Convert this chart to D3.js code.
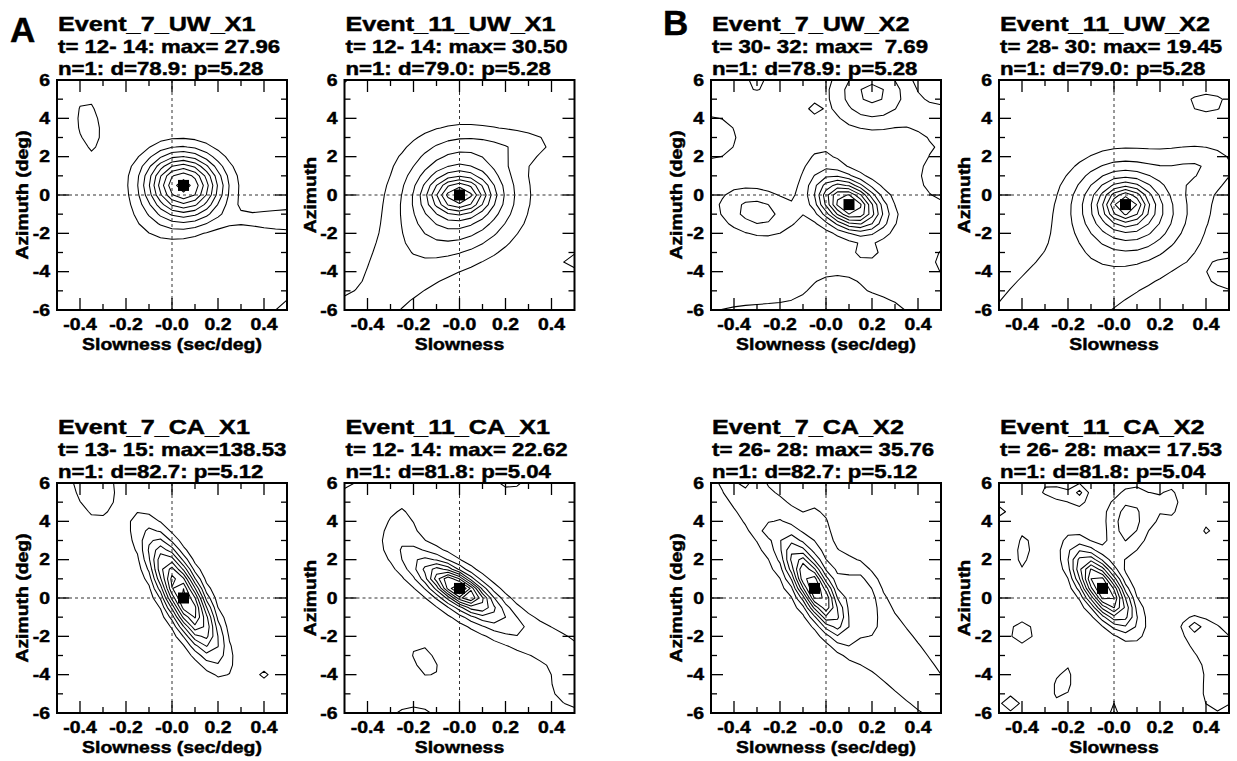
<!DOCTYPE html>
<html><head><meta charset="utf-8">
<script src="https://cdn.jsdelivr.net/npm/d3@7"></script>
<style>
body{margin:0;background:#fff}
text{font-family:"Liberation Sans",Arial,Helvetica,sans-serif;font-weight:bold;fill:#000;stroke:#000;stroke-width:0.45px;white-space:pre}
</style></head>
<body>
<svg id="chart" width="1237" height="761"></svg>
<script>
// ---------------- data ----------------
const titles = ["Event_7_UW_X1","Event_11_UW_X1","Event_7_UW_X2","Event_11_UW_X2",
                "Event_7_CA_X1","Event_11_CA_X1","Event_7_CA_X2","Event_11_CA_X2"];
const timeLines = ["t= 12- 14: max= 27.96","t= 12- 14: max= 30.50","t= 30- 32: max=  7.69","t= 28- 30: max= 19.45",
                   "t= 13- 15: max=138.53","t= 12- 14: max= 22.62","t= 26- 28: max= 35.76","t= 26- 28: max= 17.53"];
const infoLines = ["n=1: d=78.9: p=5.28","n=1: d=79.0: p=5.28","n=1: d=78.9: p=5.28","n=1: d=79.0: p=5.28",
                   "n=1: d=82.7: p=5.12","n=1: d=81.8: p=5.04","n=1: d=82.7: p=5.12","n=1: d=81.8: p=5.04"];
const yLabels = ["Azimuth (deg)","Azimuth","Azimuth (deg)","Azimuth","Azimuth (deg)","Azimuth","Azimuth (deg)","Azimuth"];
const xLabels = ["Slowness (sec/deg)","Slowness","Slowness (sec/deg)","Slowness","Slowness (sec/deg)","Slowness","Slowness (sec/deg)","Slowness"];
const groupLabels = ["A","B"];

// best-beam location (slowness, azimuth) of each panel
const peakSlowness = [0.05, 0.0, 0.1, 0.05, 0.05, 0.0, -0.05, -0.05];
const peakAzimuth  = [0.5, 0.0, -0.5, -0.5, 0.0, 0.5, 0.5, 0.5];

// axis ticks
const xTickValues = [-0.4,-0.2,0,0.2,0.4];
const xTickLabels = ["-0.4","-0.2","-0.0","0.2","0.4"];
const xMinorValues = [-0.4,-0.3,-0.2,-0.1,0,0.1,0.2,0.3,0.4];
const yTickValues = [6,4,2,0,-2,-4,-6];
const yTickLabels = ["6","4","2","0","-2","-4","-6"];
const yMinorValues = [-5,-4,-3,-2,-1,0,1,2,3,4,5];

// contour levels (fraction of the panel maximum)
const levels = [0.1,0.2,0.3,0.4,0.5,0.6,0.7,0.8,0.9];

// beam-power features: [slowness, azimuth, width_s, width_az, tilt, relative power]
const beams1 = [[0.05,0.5,0.112,1.15,-0.05,0.95],[-0.05,-1.6,0.12,0.9,0,0.08],[-0.36,3.6,0.06,1.6,-0.3,0.14],
                [0.56,-1.3,0.21,0.45,0,0.2],[0.56,-6.4,0.1,0.9,0,0.2]];
const beams2 = [[0,0,0.08,0.6,0,0.5],[0,0,0.17,1.9,0,0.5],[-0.25,-3.8,0.2,2.5,0.5,0.14],[0.1,2.6,0.2,0.8,0,0.05],
                [0.3,2.7,0.12,0.6,0,0.08],[-0.4,1.9,0.05,0.3,0,0.06],[0.52,-3.45,0.08,0.5,0,0.14],
                [-0.55,6.3,0.08,0.7,0,0.15],[-0.55,-6.4,0.15,0.8,0,0.1]];
const beams3 = [[0.1,-0.5,0.095,0.9,-0.35,0.95],[0.2,5.3,0.12,1.2,0,0.33],[-0.05,4.5,0.02,0.2,0,0.15],
                [-0.5,3.0,0.12,1.2,0,0.15],[-0.3,5.8,0.08,0.5,0,0.12],[-0.3,-0.9,0.12,0.9,-0.2,0.25],
                [0.18,-3.0,0.04,0.3,0,0.13],[-0.3,-6.4,0.25,0.8,0,0.14],[0.25,-6.2,0.1,0.6,0,0.14],
                [0.55,1.0,0.15,1.5,0,0.15],[0.55,-3.5,0.1,1.0,0,0.13],[-0.02,1.8,0.08,1.0,0,0.1],
                [0.05,-4.8,0.15,1.0,0,0.12],[0.5,4.0,0.1,0.8,0,0.12]];
const beams4 = [[0.05,-0.5,0.06,0.6,0,0.45],[0.05,-0.6,0.15,1.55,-0.1,0.5],[-0.15,-4.5,0.5,5.0,0.8,0.15],
                [0.36,1.5,0.1,0.7,0,0.12],[0.4,4.85,0.075,0.45,0,0.13],[0.53,-4.2,0.1,0.8,0,0.14]];
const beams5 = [[0.05,0.1,0.1,2.0,-0.8,0.95],[-0.35,6.4,0.1,2.4,-0.3,0.15],[0.4,-4.0,0.02,0.2,0,0.15]];
const beams6 = [[0.0,0.5,0.07,0.6,-0.7,0.5],[0.0,0.4,0.15,1.3,-0.8,0.5],[-0.05,0.8,0.22,2.2,-0.75,0.08],
                [-0.25,4.0,0.06,1.2,0,0.1],[0.38,-2.2,0.15,1.0,-0.5,0.12],[-0.15,-3.3,0.06,0.9,-0.5,0.15],
                [-0.2,-6.4,0.1,0.8,0,0.15],[-0.52,6.2,0.08,0.6,0,0.14],[0.22,6.3,0.07,0.7,0,0.14],
                [0.55,-4.7,0.15,1.2,0,0.15]];
const beams7 = [[-0.05,0.5,0.08,1.5,-0.8,0.78],[0.07,0,0.46,6.0,-0.95,0.2],[0.16,0.4,0.05,1.0,-0.3,0.14],
                [-0.03,4.0,0.04,1.0,0,0.08],[-0.25,3.5,0.02,0.2,0,0.1],[-0.36,6.2,0.04,0.5,0,0.12]];
const beams8 = [[-0.05,0.5,0.085,1.3,-0.7,0.95],[0.06,3.9,0.06,1.3,0.2,0.25],[-0.39,2.5,0.04,1.1,0.3,0.14],
                [-0.4,-1.8,0.06,0.7,0,0.14],[-0.22,-4.4,0.04,1.0,0.3,0.14],[0.42,3.4,0.03,0.5,-0.4,0.13],
                [0.4,-2.0,0.12,1.2,-0.5,0.14],[0.35,-1.5,0.02,0.2,0,0.15],[-0.25,5.5,0.15,1.0,-0.5,0.11],
                [0.25,5.0,0.08,1.5,0,0.11],[0.45,-5.0,0.1,1.5,0,0.12],[-0.45,-5.5,0.1,1.0,0,0.11],
                [-0.15,5.5,0.02,0.3,0,0.15],[-0.5,4.5,0.05,0.5,0,0.12],[0.0,-5.8,0.06,0.5,0,0.12]];
const beams = [beams1,beams2,beams3,beams4,beams5,beams6,beams7,beams8];

// ---------------- drawing ----------------
const svg = d3.select("#chart");
const K = 1.19;   // horizontal stretch of the original typeface
function stretch(sel, k){
  sel.each(function(){
    const w = this.getComputedTextLength();
    d3.select(this).attr("textLength", w*k).attr("lengthAdjust","spacingAndGlyphs");
  });
  return sel;
}

const PW = 230, PH = 230;
const colX = [57, 344.5, 711, 999];
const rowY = [80, 483];

// sampling grid of the beam-power map
const NX = 23, NY = 27, X0 = -0.55, DX = 0.05, Y0 = -6.5, DY = 0.5;
const gxs = d3.range(NX).map(i => X0 + i*DX);
const gys = d3.range(NY).map(j => Y0 + j*DY);

function power(list, s, a){
  let v = 0;
  for (const [cx,cy,sx,sy,r,amp] of list){
    const u = (s-cx)/sx, w = (a-cy)/sy;
    const q = (u*u - 2*r*u*w + w*w)/(1 - r*r);
    v += amp*Math.exp(-0.5*q);
  }
  return v;
}

svg.append("defs");

titles.forEach((t, i) => {
  const col = i % 4, row = Math.floor(i/4);
  const L = colX[col], T = rowY[row];
  const x = d3.scaleLinear().domain([-0.5,0.5]).range([L, L+PW]);
  const y = d3.scaleLinear().domain([-6,6]).range([T+PH, T]);
  const g = svg.append("g");

  const cid = "clip"+i;
  svg.select("defs").append("clipPath").attr("id",cid)
    .append("rect").attr("x",L).attr("y",T).attr("width",PW).attr("height",PH);

  // contours
  const values = new Array(NX*NY);
  for (let j=0;j<NY;j++) for (let k=0;k<NX;k++) values[j*NX+k] = power(beams[i], gxs[k], gys[j]);
  const cs = d3.contours().size([NX,NY]).thresholds(levels)(values);
  const proj = d3.geoTransform({point(px,py){
    this.stream.point(x(X0 + (px-0.5)*DX), y(Y0 + (py-0.5)*DY));
  }});
  const path = d3.geoPath(proj);
  g.append("g").attr("clip-path",`url(#${cid})`)
    .selectAll("path").data(cs).join("path")
    .attr("d", path).attr("fill","none").attr("stroke","#000").attr("stroke-width",1.05)
    .attr("stroke-linejoin","round");

  // zero lines
  g.append("line").attr("x1",x(0)).attr("x2",x(0)).attr("y1",T).attr("y2",T+PH)
    .attr("stroke","#333").attr("stroke-width",1).attr("stroke-dasharray","3,3");
  g.append("line").attr("x1",L).attr("x2",L+PW).attr("y1",y(0)).attr("y2",y(0))
    .attr("stroke","#333").attr("stroke-width",1).attr("stroke-dasharray","3,3");

  // ticks (inward, all four sides)
  const tk = g.append("g").attr("stroke","#000").attr("stroke-width",1.3);
  xMinorValues.forEach(v => {
    const len = xTickValues.some(m => Math.abs(m-v)<1e-9) ? 12 : 6;
    tk.append("line").attr("x1",x(v)).attr("x2",x(v)).attr("y1",T+PH).attr("y2",T+PH-len);
    tk.append("line").attr("x1",x(v)).attr("x2",x(v)).attr("y1",T).attr("y2",T+len);
  });
  yMinorValues.forEach(v => {
    const len = (v % 2 === 0) ? 12 : 6;
    tk.append("line").attr("x1",L).attr("x2",L+len).attr("y1",y(v)).attr("y2",y(v));
    tk.append("line").attr("x1",L+PW).attr("x2",L+PW-len).attr("y1",y(v)).attr("y2",y(v));
  });

  // frame
  g.append("rect").attr("x",L).attr("y",T).attr("width",PW).attr("height",PH)
    .attr("fill","none").attr("stroke","#000").attr("stroke-width",2);

  // best beam marker
  g.append("rect").attr("x",x(peakSlowness[i])-5.5).attr("y",y(peakAzimuth[i])-5.5)
    .attr("width",11).attr("height",11).attr("fill","#000");

  // tick labels
  xTickValues.forEach((v,k) => {
    stretch(g.append("text").attr("x",x(v)).attr("y",T+PH+20).attr("text-anchor","middle")
      .attr("font-size",16.3).text(xTickLabels[k]), K);
  });
  yTickValues.forEach((v,k) => {
    stretch(g.append("text").attr("x",L-7).attr("y",y(v)+5.8).attr("text-anchor","end")
      .attr("font-size",16.3).text(yTickLabels[k]), K);
  });

  // axis titles
  stretch(g.append("text").attr("x",L+PW/2).attr("y",T+PH+39.5).attr("text-anchor","middle")
    .attr("font-size",16.3).text(xLabels[i]), K);
  stretch(g.append("text").attr("transform",`translate(${L-29},${T+PH/2}) rotate(-90)`)
    .attr("text-anchor","middle").attr("font-size",16.3).text(yLabels[i]), K);

  // titles
  stretch(g.append("text").attr("x",L+1).attr("y",T-49).attr("font-size",21).text(t), 1.2);
  stretch(g.append("text").attr("x",L+1).attr("y",T-27).attr("font-size",18.5).text(timeLines[i]), 1.2);
  stretch(g.append("text").attr("x",L+1).attr("y",T-5).attr("font-size",18.5).text(infoLines[i]), 1.2);
});

svg.append("text").attr("x",10).attr("y",42).attr("font-size",35).text(groupLabels[0]);
svg.append("text").attr("x",663).attr("y",35).attr("font-size",35).text(groupLabels[1]);
</script>
</body></html>
